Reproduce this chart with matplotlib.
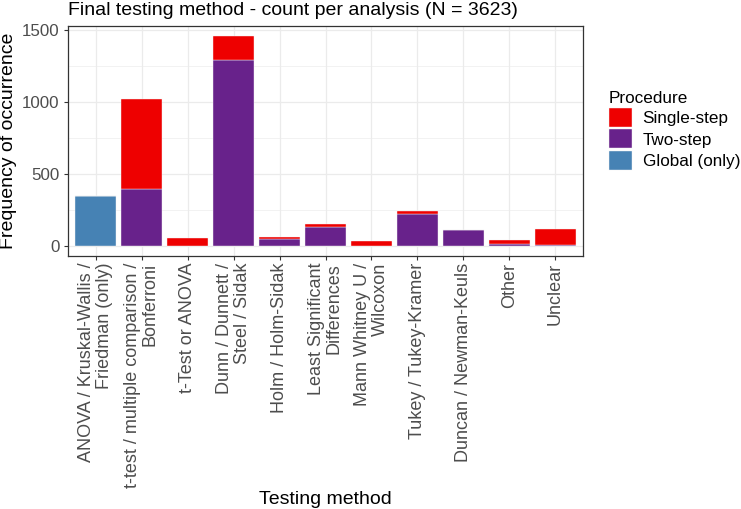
import matplotlib
matplotlib.use('Agg')
import matplotlib.pyplot as plt
from matplotlib.patches import Patch
import numpy as np

plt.rcParams['font.family'] = ['Liberation Sans', 'DejaVu Sans']

methods = ['ANOVA / Kruskal-Wallis /\nFriedman (only)',
           't-test / multiple comparison /\nBonferroni',
           't-Test or ANOVA',
           'Dunn / Dunnett /\nSteel / Sidak',
           'Holm / Holm-Sidak',
           'Least Significant\nDifferences',
           'Mann Whitney U /\nWilcoxon',
           'Tukey / Tukey-Kramer',
           'Duncan / Newman-Keuls',
           'Other',
           'Unclear']

global_only = [347, 0, 0, 0, 0, 0, 0, 0, 0, 0, 0]
two_step = [0, 393, 0, 1292, 44, 130, 0, 220, 111, 10, 5]
single_step = [0, 628, 53, 164, 15, 17, 35, 24, 0, 28, 107]

procedures = ['Single-step', 'Two-step', 'Global (only)']
colors = {'Single-step': '#EE0000',
          'Two-step': '#68228B',
          'Global (only)': '#4682B4'}

W, H = 741, 509
fig = plt.figure(figsize=(W / 100, H / 100), dpi=100)
ax = fig.add_axes([68 / W, 1 - 256 / H, (583 - 68) / W, (256 - 26) / H])

x = np.arange(len(methods))
g = np.array(global_only)
t = np.array(two_step)
s = np.array(single_step)

edge = dict(edgecolor='#F4F4F4', linewidth=0.3, width=0.9, zorder=3)
ax.bar(x, g, color=colors['Global (only)'], **edge)
ax.bar(x, t, bottom=g, color=colors['Two-step'], **edge)
ax.bar(x, s, bottom=g + t, color=colors['Single-step'], **edge)

top = (g + t + s).max()
ax.set_xlim(-0.6, len(methods) - 0.4)
ax.set_ylim(-0.05 * top, 1.05 * top)

ax.set_yticks([0, 500, 1000, 1500])
ax.set_yticks([250, 750, 1250], minor=True)
ax.set_xticks(x)
ax.set_xticklabels(methods, rotation=90, ha='center', va='top',
                   multialignment='right', linespacing=1.05)

ax.grid(True, which='major', color='#EBEBEB', lw=0.9, zorder=0)
ax.grid(True, which='minor', axis='y', color='#EBEBEB', lw=0.45, zorder=0)
ax.set_axisbelow(True)

for sp in ax.spines.values():
    sp.set_color('#333333')
    sp.set_linewidth(0.9)

ax.tick_params(axis='both', which='major', length=2.75, width=0.8,
               color='#333333', labelcolor='#4D4D4D')
ax.tick_params(axis='x', labelsize=13, pad=2.2)
ax.tick_params(axis='y', labelsize=12.2, pad=3.5)
ax.tick_params(which='minor', length=0)

fig.text(68 / W, 1 - 15 / H, 'Final testing method - count per analysis (N = 3623)',
         fontsize=14, ha='left', va='baseline')
fig.text(8.5 / W, 1 - 141 / H, 'Frequency of occurrence', fontsize=14,
         rotation=90, ha='center', va='center')
fig.text(325.5 / W, 1 - 504 / H, 'Testing method', fontsize=14,
         ha='center', va='baseline')

handles = [Patch(facecolor=colors[p], edgecolor='#F4F4F4', linewidth=0.3)
           for p in procedures]
leg = fig.legend(handles, procedures, title='Procedure', loc='upper left',
                 bbox_to_anchor=(609 / W, 1 - 91 / H), frameon=False,
                 fontsize=12.3, title_fontsize=12.3, borderpad=0,
                 borderaxespad=0, handlelength=1.35, handleheight=1.35,
                 labelspacing=0.12, handletextpad=0.62, alignment='left')

fig.savefig('out.png', dpi=100)
